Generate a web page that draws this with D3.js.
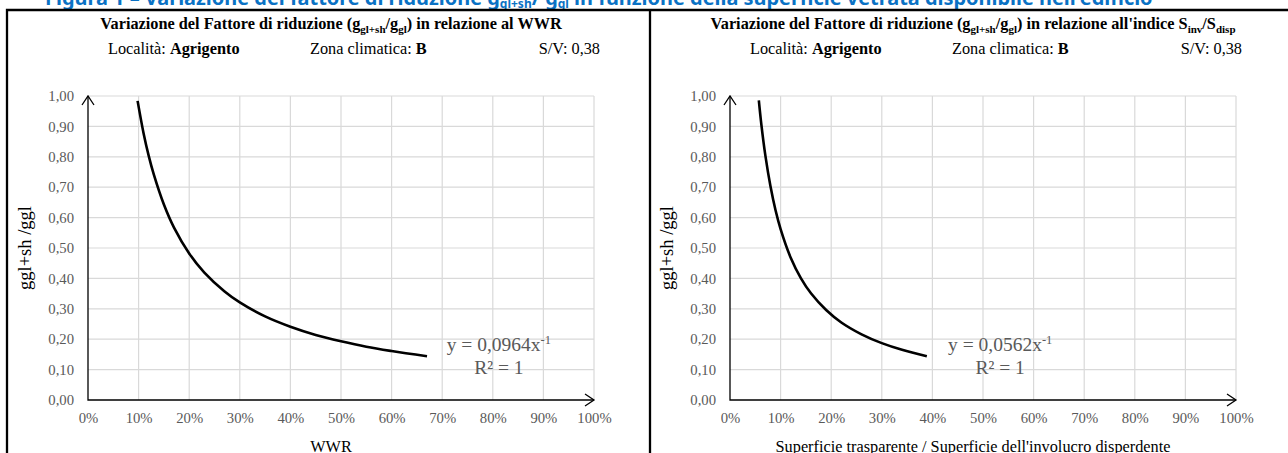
<!DOCTYPE html>
<html>
<head>
<meta charset="utf-8">
<script src="https://cdn.jsdelivr.net/npm/d3@7"></script>
<style>
  body { margin: 0; background: #fff; }
  svg { display: block; }
</style>
</head>
<body>
<svg id="chart" width="1288" height="453"></svg>
<script>
// Fattore di riduzione charts (Agrigento)

// values
var wwrX = [0.098, 0.11, 0.12, 0.13, 0.15, 0.17, 0.20, 0.23, 0.27, 0.30, 0.35, 0.40, 0.45, 0.50, 0.55, 0.60, 0.67];
var wwrY = [0.984, 0.876, 0.803, 0.742, 0.643, 0.567, 0.482, 0.419, 0.357, 0.321, 0.275, 0.241, 0.214, 0.193, 0.175, 0.161, 0.144];

var sinvX = [0.057, 0.062, 0.07, 0.08, 0.09, 0.10, 0.12, 0.14, 0.16, 0.19, 0.22, 0.26, 0.30, 0.34, 0.389];
var sinvY = [0.986, 0.906, 0.803, 0.703, 0.624, 0.562, 0.468, 0.401, 0.351, 0.296, 0.255, 0.216, 0.187, 0.165, 0.144];

var xTicks = [0, 0.1, 0.2, 0.3, 0.4, 0.5, 0.6, 0.7, 0.8, 0.9, 1];
var yTicks = [0, 0.1, 0.2, 0.3, 0.4, 0.5, 0.6, 0.7, 0.8, 0.9, 1];

var titles = [
  [{ t: "Variazione del Fattore di riduzione (g" }, { t: "gl+sh", sub: true }, { t: "/g" }, { t: "gl", sub: true }, { t: ") in relazione al WWR" }],
  [{ t: "Variazione del Fattore di riduzione (g" }, { t: "gl+sh", sub: true }, { t: "/g" }, { t: "gl", sub: true }, { t: ") in relazione all'indice S" }, { t: "inv", sub: true }, { t: "/S" }, { t: "disp", sub: true }]
];
var xTitles = ["WWR", "Superficie trasparente / Superficie dell'involucro disperdente"];
var equations = ["y = 0,0964x", "y = 0,0562x"];
var yTitle = "ggl+sh /ggl";
var localita = "Agrigento";
var zona = "B";
var sv = "0,38";

var svg = d3.select("#chart");
var serif = "'Liberation Serif', 'Times New Roman', serif";
var grey = "#595959";

// heading (cut by the top of the picture)
var heading = svg.append("text")
  .attr("x", 45)
  .attr("y", 5)
  .attr("fill", "#0a72c4")
  .style("font-family", "'Noto Sans', sans-serif")
  .style("font-weight", "bold")
  .style("font-size", "18px");
heading.append("tspan").text("Figura 1 \u2013 Variazione del fattore di riduzione g");
heading.append("tspan").attr("dy", 3).style("font-size", "12px").text("gl+sh");
heading.append("tspan").attr("dy", -3).text("/ g");
heading.append("tspan").attr("dy", 3).style("font-size", "12px").text("gl");
heading.append("tspan").attr("dy", -3).text(" in funzione della superficie vetrata disponibile nell'edificio");
var hw = heading.node().getComputedTextLength();
heading.style("font-size", (18 * 1113 / hw) + "px");

// frame
svg.append("path")
  .attr("d", "M7,453V10H1288M650,10V453")
  .attr("fill", "none")
  .attr("stroke", "#000")
  .attr("stroke-width", 2.3);

function addSegments(sel, segs) {
  segs.forEach(function (s, i) {
    var shift = 0;
    if (s.sub) shift = 4;
    else if (i > 0 && segs[i - 1].sub) shift = -4;
    sel.append("tspan")
      .attr("dy", shift)
      .style("font-size", s.sub ? "11px" : null)
      .text(s.t);
  });
}

var panels = [
  { dx: 0, xs: wwrX, ys: wwrY, title: titles[0], xTitle: xTitles[0], eq: equations[0], eqX: 0.812 },
  { dx: 642, xs: sinvX, ys: sinvY, title: titles[1], xTitle: xTitles[1], eq: equations[1], eqX: 0.534 }
];

panels.forEach(function (p) {
  var g = svg.append("g").attr("transform", "translate(" + p.dx + ",0)");
  var x = d3.scaleLinear().domain([0, 1]).range([88, 594]);
  var y = d3.scaleLinear().domain([0, 1]).range([400, 96]);

  // title
  var t = g.append("text")
    .attr("x", 331)
    .attr("y", 29)
    .attr("text-anchor", "middle")
    .style("font-family", serif)
    .style("font-weight", "bold")
    .style("font-size", "16.3px");
  addSegments(t, p.title);

  // second line
  var l1 = g.append("text").attr("x", 108).attr("y", 54)
    .style("font-family", serif).style("font-size", "16.3px");
  l1.append("tspan").text("Località: ");
  l1.append("tspan").style("font-weight", "bold").text(localita);
  var l2 = g.append("text").attr("x", 310).attr("y", 54)
    .style("font-family", serif).style("font-size", "16.3px");
  l2.append("tspan").text("Zona climatica: ");
  l2.append("tspan").style("font-weight", "bold").text(zona);
  g.append("text").attr("x", 600).attr("y", 54)
    .attr("text-anchor", "end")
    .style("font-family", serif).style("font-size", "16.3px")
    .text("S/V: " + sv);

  // gridlines
  g.selectAll(".vgrid")
    .data(xTicks.slice(1))
    .enter()
    .append("line")
    .attr("x1", function (d) { return x(d); })
    .attr("x2", function (d) { return x(d); })
    .attr("y1", y(0))
    .attr("y2", y(1))
    .attr("stroke", "#d9d9d9")
    .attr("stroke-width", 1.2);
  g.selectAll(".hgrid")
    .data(yTicks.slice(1))
    .enter()
    .append("line")
    .attr("x1", x(0))
    .attr("x2", x(1))
    .attr("y1", function (d) { return y(d); })
    .attr("y2", function (d) { return y(d); })
    .attr("stroke", "#d9d9d9")
    .attr("stroke-width", 1.2);

  // axes labels
  var ax = g.append("g")
    .attr("transform", "translate(0," + y(0) + ")")
    .call(d3.axisBottom(x).tickValues(xTicks).tickSize(0).tickPadding(13).tickFormat(d3.format(".0%")));
  var ay = g.append("g")
    .attr("transform", "translate(" + x(0) + ",0)")
    .call(d3.axisLeft(y).tickValues(yTicks).tickSize(0).tickPadding(14).tickFormat(function (d) {
      return d.toFixed(2).replace(".", ",");
    }));
  [ax, ay].forEach(function (a) {
    a.select(".domain").remove();
    a.selectAll("text")
      .attr("fill", grey)
      .style("font-family", serif)
      .style("font-size", "14.7px");
  });

  // axis lines with arrows
  g.append("path")
    .attr("d", "M" + x(0) + "," + y(1) + "V" + y(0) + "H" + x(1))
    .attr("fill", "none")
    .attr("stroke", "#000")
    .attr("stroke-width", 1.3);
  g.append("path")
    .attr("d", "M" + (x(0) - 6) + "," + (y(1) + 9) + "L" + x(0) + "," + y(1) + "L" + (x(0) + 6) + "," + (y(1) + 9) +
      "M" + (x(1) - 9) + "," + (y(0) - 6) + "L" + x(1) + "," + y(0) + "L" + (x(1) - 9) + "," + (y(0) + 6))
    .attr("fill", "none")
    .attr("stroke", "#000")
    .attr("stroke-width", 1.3);

  // curve
  var pts = p.xs.map(function (d, i) { return [d, p.ys[i]]; });
  g.append("path")
    .datum(pts)
    .attr("fill", "none")
    .attr("stroke", "#000")
    .attr("stroke-width", 2.6)
    .attr("d", d3.line()
      .x(function (d) { return x(d[0]); })
      .y(function (d) { return y(d[1]); })
      .curve(d3.curveCatmullRom.alpha(0.5)));

  // trendline label
  var eq = g.append("text")
    .attr("x", x(p.eqX))
    .attr("y", 351)
    .attr("text-anchor", "middle")
    .attr("fill", grey)
    .style("font-family", serif)
    .style("font-size", "19.5px");
  eq.append("tspan").text(p.eq);
  eq.append("tspan").attr("dy", -7).style("font-size", "12.5px").text("-1");
  g.append("text")
    .attr("x", x(p.eqX))
    .attr("y", 374)
    .attr("text-anchor", "middle")
    .attr("fill", grey)
    .style("font-family", serif)
    .style("font-size", "19.5px")
    .text("R\u00b2 = 1");

  // axis titles
  g.append("text")
    .attr("x", 331)
    .attr("y", 452)
    .attr("text-anchor", "middle")
    .style("font-family", serif)
    .style("font-size", "16.3px")
    .text(p.xTitle);
  g.append("text")
    .attr("transform", "translate(25,248) rotate(-90)")
    .attr("dy", "0.35em")
    .attr("text-anchor", "middle")
    .style("font-family", serif)
    .style("font-size", "18.5px")
    .text(yTitle);
});
</script>
</body>
</html>
